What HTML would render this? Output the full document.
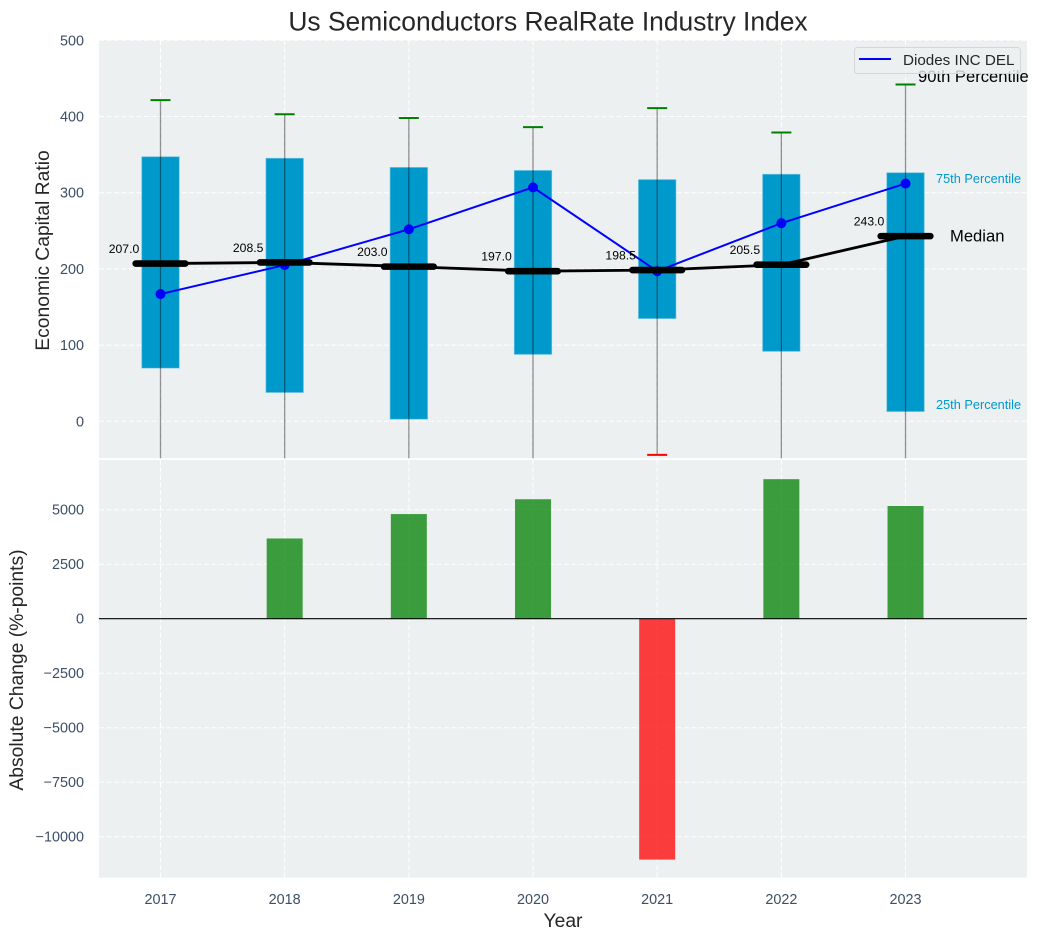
<!DOCTYPE html>
<html>
<head>
<meta charset="utf-8">
<style>
html,body{margin:0;padding:0;background:#fff;width:1038px;height:940px;overflow:hidden}
svg{display:block;font-family:"Liberation Sans",Arial,sans-serif}
</style>
</head>
<body>
<svg id="chart" xmlns="http://www.w3.org/2000/svg" width="1038" height="940" viewBox="0 0 1038 940">
  <defs>
    <clipPath id="clip-top"><rect x="99" y="40" width="928" height="418.2"/></clipPath>
    <clipPath id="clip-bottom"><rect x="99" y="460" width="928" height="417.7"/></clipPath>
  </defs>
  <rect x="99" y="40" width="928" height="418.2" fill="#ecf0f1"/>
  <rect x="99" y="460" width="928" height="417.7" fill="#ecf0f1"/>
  <g id="grid-top" clip-path="url(#clip-top)"></g>
  <g id="grid-bottom" clip-path="url(#clip-bottom)"></g>
  <g id="marks-top" clip-path="url(#clip-top)"></g>
  <g id="marks-bottom" clip-path="url(#clip-bottom)"></g>
  <g id="labels"></g>
  <text x="548" y="30.5" text-anchor="middle" font-size="26.4" fill="#262626">Us Semiconductors RealRate Industry Index</text>
  <text transform="translate(49,250.5) rotate(-90)" text-anchor="middle" font-size="19.3" fill="#262626">Economic Capital Ratio</text>
  <text transform="translate(23,670) rotate(-90)" text-anchor="middle" font-size="19.3" fill="#262626">Absolute Change (%-points)</text>
  <text x="563" y="927" text-anchor="middle" font-size="19.3" fill="#262626">Year</text>
  <text x="918" y="82" font-size="16.6" fill="#000">90th Percentile</text>
  <text x="936" y="183" font-size="12.75" fill="#0099cc">75th Percentile</text>
  <text x="950" y="241.5" font-size="16.6" fill="#000">Median</text>
  <text x="936" y="409" font-size="12.75" fill="#0099cc">25th Percentile</text>
  <g>
    <rect x="854.5" y="47.5" width="166" height="26" rx="3" fill="#ecf0f1" fill-opacity="0.8" stroke="#d4d6da"/>
    <line x1="859" y1="59" x2="891" y2="59" stroke="#0000ff" stroke-width="2"/>
    <text x="903" y="65" font-size="15.2" fill="#262626">Diodes INC DEL</text>
  </g>
</svg>
<script>
const years = [2017, 2018, 2019, 2020, 2021, 2022, 2023];
const p90 = [421.5, 403, 398, 386, 411, 379, 442];
const p75 = [347, 345, 333, 329, 317, 324, 326];
const medians = [207.0, 208.5, 203.0, 197.0, 198.5, 205.5, 243.0];
const p25 = [70, 38, 3, 88, 135, 92, 13];
const p10 = [-75, -85, -100, -80, -44, -90, -70];
const company = [167, 205, 252, 307, 197, 260, 312];
const changes = [null, 3680, 4800, 5480, -11050, 6400, 5170];
const topTicks = [0, 100, 200, 300, 400, 500];
const bottomTicks = [-10000, -7500, -5000, -2500, 0, 2500, 5000];

const NS = 'http://www.w3.org/2000/svg';
const xScale = function (year) { return 160.5 + (year - 2017) * 124.17; };
const yTop = function (v) { return 421.3 - v * 0.762; };
const yBottom = function (v) { return 618.7 - v * 0.0218; };

function make(parent, tag, attrs, text) {
  const el = document.createElementNS(NS, tag);
  Object.keys(attrs).forEach(function (k) { el.setAttribute(k, attrs[k]); });
  if (text !== undefined) el.textContent = text;
  parent.appendChild(el);
  return el;
}

const gridTop = document.getElementById('grid-top');
const gridBottom = document.getElementById('grid-bottom');
const marksTop = document.getElementById('marks-top');
const marksBottom = document.getElementById('marks-bottom');
const labels = document.getElementById('labels');
const gridStyle = { stroke: '#ffffff', 'stroke-width': 1, 'stroke-dasharray': '5 2.5' };

topTicks.forEach(function (t) {
  const g = make(gridTop, 'line', Object.assign({ x1: 99, x2: 1027, y1: yTop(t), y2: yTop(t) }, gridStyle));
  
  
  const l = make(labels, 'text', { x: 84, y: yTop(t) + 5, 'text-anchor': 'end', 'font-size': 14.4, fill: '#3d4f66' }, String(t));
  
  
});

bottomTicks.forEach(function (t) {
  const g = make(gridBottom, 'line', Object.assign({ x1: 99, x2: 1027, y1: yBottom(t), y2: yBottom(t) }, gridStyle));
  
  
  const txt = t < 0 ? '\u2212' + Math.abs(t) : String(t);
  const l = make(labels, 'text', { x: 84, y: yBottom(t) + 5, 'text-anchor': 'end', 'font-size': 14.4, fill: '#3d4f66' }, txt);
  
  
});

years.forEach(function (yr) {
  const x = xScale(yr);
  const a = make(gridTop, 'line', Object.assign({ x1: x, x2: x, y1: 40, y2: 458.2 }, gridStyle));
  
  
  const b = make(gridBottom, 'line', Object.assign({ x1: x, x2: x, y1: 460, y2: 877.7 }, gridStyle));
  
  
  const l = make(labels, 'text', { x: x, y: 904, 'text-anchor': 'middle', 'font-size': 14.4, fill: '#3d4f66' }, String(yr));
  
  
});

/* interquartile boxes */
years.forEach(function (yr, i) {
  const x = xScale(yr);
  const box = make(marksTop, 'rect', {
    x: x - 18.6, width: 37.2, y: yTop(p75[i]), height: yTop(p25[i]) - yTop(p75[i]),
    fill: '#0099cc', stroke: '#33add6', 'stroke-opacity': 0.6, 'stroke-width': 1
  });
  
  
});

/* whiskers and caps */
years.forEach(function (yr, i) {
  const x = xScale(yr);
  const w = make(marksTop, 'line', {
    x1: x, x2: x, y1: yTop(p90[i]), y2: yTop(p10[i]), stroke: '#000', 'stroke-opacity': 0.42, 'stroke-width': 1.3
  });
  
  
  const hi = make(marksTop, 'line', {
    x1: x - 10, x2: x + 10, y1: yTop(p90[i]), y2: yTop(p90[i]), stroke: '#008000', 'stroke-width': 2
  });
  
  
  const lo = make(marksTop, 'line', {
    x1: x - 10, x2: x + 10, y1: yTop(p10[i]), y2: yTop(p10[i]), stroke: '#ff0000', 'stroke-width': 2
  });
  
  
});

/* company series */
const companyPoints = years.map(function (yr, i) { return xScale(yr) + ',' + yTop(company[i]); }).join(' ');
const companyLine = make(marksTop, 'polyline', { points: companyPoints, fill: 'none', stroke: '#0000ff', 'stroke-width': 2 });


years.forEach(function (yr, i) {
  const pt = make(marksTop, 'circle', { cx: xScale(yr), cy: yTop(company[i]), r: 5, fill: '#0000ff' });
  
  
});

/* median series */
const medianPoints = years.map(function (yr, i) { return xScale(yr) + ',' + yTop(medians[i]); }).join(' ');
const medianLine = make(marksTop, 'polyline', { points: medianPoints, fill: 'none', stroke: '#000', 'stroke-width': 2.8 });


years.forEach(function (yr, i) {
  const x = xScale(yr);
  const m = make(marksTop, 'line', {
    x1: x - 24.8, x2: x + 24.8, y1: yTop(medians[i]), y2: yTop(medians[i]),
    stroke: '#000', 'stroke-width': 6.6, 'stroke-linecap': 'round'
  });
  
  
  const l = make(labels, 'text', {
    x: x - 36.5, y: yTop(medians[i]) - 10.5, 'text-anchor': 'middle', 'font-size': 12.2, fill: '#000'
  }, medians[i].toFixed(1));
  
  
});

/* change bars */
years.forEach(function (yr, i) {
  const v = changes[i];
  if (v === null) return;
  const x = xScale(yr);
  const top = Math.min(yBottom(v), yBottom(0));
  const h = Math.abs(yBottom(v) - yBottom(0));
  const bar = make(marksBottom, 'rect', {
    x: x - 18, width: 36, y: top, height: h,
    fill: v >= 0 ? '#008000' : '#ff0000', 'fill-opacity': 0.75
  });
  
  
});
const zero = make(marksBottom, 'line', { x1: 99, x2: 1027, y1: yBottom(0), y2: yBottom(0), stroke: '#000', 'stroke-width': 1.2 });


</script>
</body>
</html>
